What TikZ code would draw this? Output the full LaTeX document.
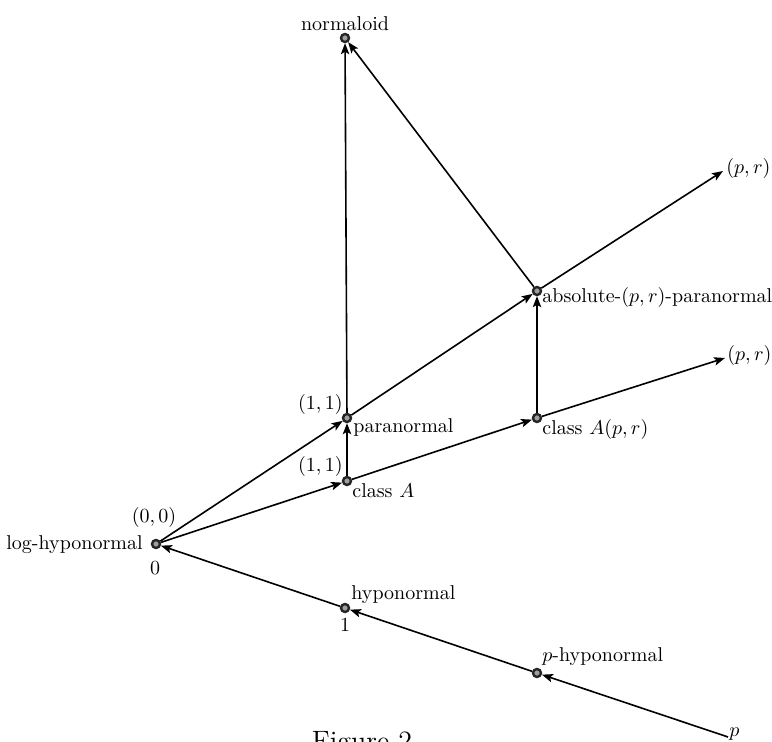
\documentclass[tikz,border=0pt]{standalone}
\usetikzlibrary{arrows.meta}
\begin{document}
\begin{tikzpicture}[x=0.5pt,y=-0.5pt,
  dot/.style={circle,draw=black!85,fill=gray!75,line width=1.2pt,inner sep=0pt,minimum size=4pt},
  edge/.style={line width=0.8pt,-{Stealth[length=5.5pt,width=4.2pt,inset=1.2pt]}},
  lbl/.style={inner sep=0pt,font=\fontsize{10}{12}\selectfont}]
\useasboundingbox (0,0) rectangle (772,742);
% points
\node[dot] (N)  at (345,38) {};
\node[dot] (AB) at (537,291) {};
\node[dot] (PA) at (347,418) {};
\node[dot] (CA) at (347,481) {};
\node[dot] (CAP) at (537,418) {};
\node[dot] (LH) at (156,544) {};
\node[dot] (HY) at (345,608) {};
\node[dot] (PH) at (537,673) {};
\coordinate (PR1) at (723,171);
\coordinate (PR2) at (725,358);
\coordinate (P) at (728,737);
% labels
\node[lbl] (lN) at (345,24) {normaloid};
\node[lbl,anchor=west] (lAB) at (542,298) {absolute-$(p,r)$-paranormal};
\node[lbl,anchor=west] (lPR1) at (726,169) {$(p,r)$};
\node[lbl,anchor=west] (lPR2) at (727,356) {$(p,r)$};
\node[lbl,anchor=east] (lPA1) at (343,405) {$(1,1)$};
\node[lbl,anchor=west] (lPA) at (353,428) {paranormal};
\node[lbl,anchor=east] (lCA1) at (343,467) {$(1,1)$};
\node[lbl,anchor=west] (lCA) at (352,491) {class $A$};
\node[lbl,anchor=west] (lCAP) at (542,430) {class $A(p,r)$};
\node[lbl,anchor=east] (lLH) at (143,545) {log-hyponormal};
\node[lbl] (lLH0) at (154,518) {$(0,0)$};
\node[lbl] (lLH1) at (155,568) {$0$};
\node[lbl,anchor=west] (lHY) at (351,595) {hyponormal};
\node[lbl] (lHY1) at (345,625) {$1$};
\node[lbl,anchor=west] (lPH) at (542,657) {$p$-hyponormal};
\node[lbl,anchor=west] (lP) at (729,734) {$p$};
\node[inner sep=0pt,anchor=base,font=\fontsize{14}{16}\selectfont] (fig) at (362,751) {Figure 2};
% edges
\draw[edge] (PA) -- (N);
\draw[edge] (AB) -- (N);
\draw[edge] (AB) -- (PR1);
\draw[edge] (LH) -- (PA);
\draw[edge] (LH) -- (CA);
\draw[edge] (PA) -- (AB);
\draw[edge] (CA) -- (PA);
\draw[edge] (CA) -- (CAP);
\draw[edge] (CAP) -- (AB);
\draw[edge] (CAP) -- (PR2);
\draw[edge] (HY) -- (LH);
\draw[edge] (PH) -- (HY);
\draw[edge] (P) -- (PH);
\end{tikzpicture}
\end{document}
